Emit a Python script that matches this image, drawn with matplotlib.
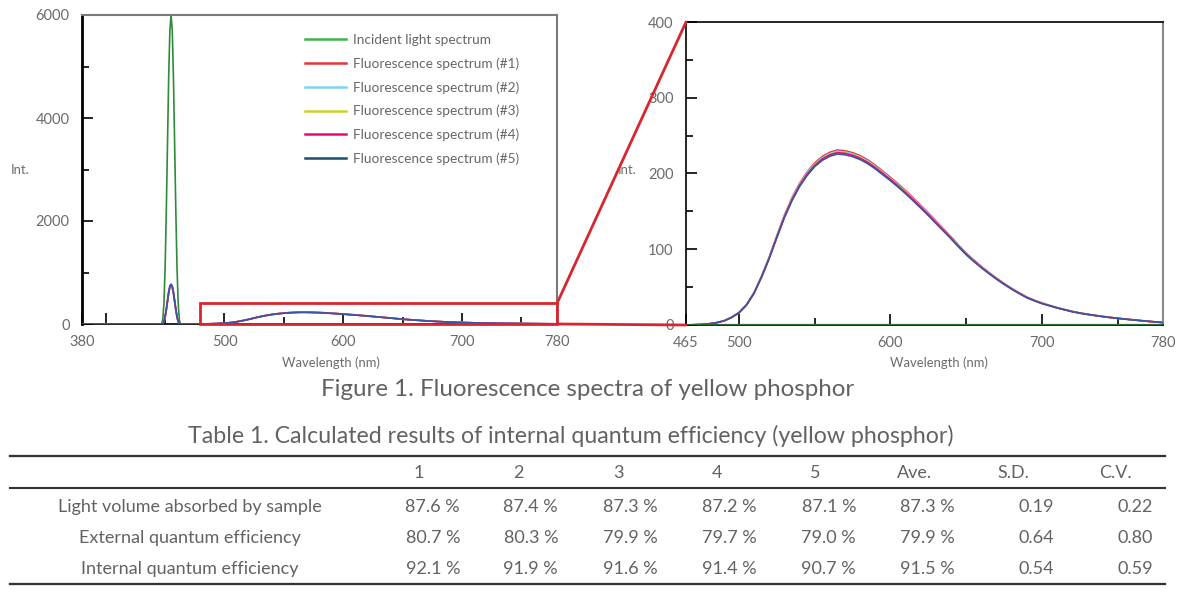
import matplotlib
matplotlib.use('Agg')
import matplotlib.pyplot as plt
from matplotlib.lines import Line2D
from matplotlib.patches import Rectangle, ConnectionPatch

plt.rcParams['font.family'] = ['Lato', 'DejaVu Sans']
plt.rcParams['font.weight'] = 'normal'

# ---- data ----
inc_nm = [380, 447, 448, 449, 450, 451, 452, 453, 454, 455, 456, 457, 458, 459, 460, 461, 462, 463, 780]
inc_val = [0, 0, 80, 400, 1100, 2200, 3500, 4800, 5700, 6000, 5700, 4800, 3500, 2200, 1100, 400, 80, 0, 0]

exc_nm = [447, 448, 449, 450, 451, 452, 453, 454, 455, 456, 457, 458, 459, 460, 461, 462, 463]
fl1_exc = [0, 10, 50, 136, 273, 434, 595, 707, 744, 707, 595, 434, 273, 136, 50, 10, 0]
fl2_exc = [0, 10, 50, 138, 277, 441, 605, 718, 756, 718, 605, 441, 277, 138, 50, 10, 0]
fl3_exc = [0, 10, 51, 140, 280, 444, 610, 724, 762, 724, 610, 444, 280, 140, 51, 10, 0]
fl4_exc = [0, 10, 51, 141, 282, 448, 614, 730, 768, 730, 614, 448, 282, 141, 51, 10, 0]
fl5_exc = [0, 10, 52, 142, 284, 451, 619, 735, 774, 735, 619, 451, 284, 142, 52, 10, 0]

em_nm = list(range(465, 781, 5))
fl1_em = [0.0, 0.3, 0.7, 1.5, 3.0, 5.5, 10.0, 16.5,
          27.0, 43.0, 65.0, 90.0, 118.0, 145.0, 168.0, 187.0,
          202.0, 214.0, 222.5, 228.0, 231.0, 230.0, 227.5, 223.5,
          218.0, 211.0, 203.0, 195.0, 186.5, 177.5, 168.0, 158.0,
          148.0, 137.5, 127.0, 116.5, 105.5, 95.0, 86.0, 77.5,
          69.5, 62.0, 55.0, 48.5, 42.5, 37.0, 32.8, 29.0,
          26.0, 23.0, 20.5, 18.0, 16.0, 14.3, 12.8, 11.4,
          10.1, 9.0, 7.9, 6.9, 5.9, 5.0, 4.1, 3.3]
fl2_em = [0.0, 0.3, 0.7, 1.5, 3.0, 5.5, 9.9, 16.4,
          26.8, 42.7, 64.5, 89.4, 117.2, 144.0, 166.8, 185.7,
          200.6, 212.5, 220.9, 226.4, 229.4, 228.4, 225.9, 221.9,
          216.5, 209.5, 201.6, 193.6, 185.2, 176.3, 166.8, 156.9,
          147.0, 136.5, 126.1, 115.7, 104.8, 94.3, 85.4, 77.0,
          69.0, 61.6, 54.6, 48.2, 42.2, 36.7, 32.6, 28.8,
          25.8, 22.8, 20.4, 17.9, 15.9, 14.2, 12.7, 11.3,
          10.0, 8.9, 7.8, 6.9, 5.9, 5.0, 4.1, 3.3]
fl3_em = [0.0, 0.3, 0.7, 1.5, 3.0, 5.4, 9.9, 16.3,
          26.7, 42.5, 64.2, 88.9, 116.6, 143.3, 166.0, 184.8,
          199.6, 211.4, 219.8, 225.3, 228.2, 227.2, 224.8, 220.8,
          215.4, 208.5, 200.6, 192.7, 184.3, 175.4, 166.0, 156.1,
          146.2, 135.9, 125.5, 115.1, 104.2, 93.9, 85.0, 76.6,
          68.7, 61.3, 54.3, 47.9, 42.0, 36.6, 32.4, 28.7,
          25.7, 22.7, 20.3, 17.8, 15.8, 14.1, 12.6, 11.3,
          10.0, 8.9, 7.8, 6.8, 5.8, 4.9, 4.1, 3.3]
fl4_em = [0.0, 0.3, 0.7, 1.5, 3.0, 5.4, 9.9, 16.3,
          26.6, 42.4, 64.0, 88.7, 116.2, 142.8, 165.5, 184.2,
          199.0, 210.8, 219.2, 224.6, 227.5, 226.6, 224.1, 220.1,
          214.7, 207.8, 200.0, 192.1, 183.7, 174.8, 165.5, 155.6,
          145.8, 135.4, 125.1, 114.8, 103.9, 93.6, 84.7, 76.3,
          68.5, 61.1, 54.2, 47.8, 41.9, 36.4, 32.3, 28.6,
          25.6, 22.7, 20.2, 17.7, 15.8, 14.1, 12.6, 11.2,
          9.9, 8.9, 7.8, 6.8, 5.8, 4.9, 4.0, 3.3]
fl5_em = [0.0, 0.3, 0.7, 1.5, 2.9, 5.4, 9.8, 16.1,
          26.4, 42.0, 63.5, 87.9, 115.3, 141.7, 164.1, 182.7,
          197.4, 209.1, 217.4, 222.8, 225.7, 224.7, 222.3, 218.4,
          213.0, 206.1, 198.3, 190.5, 182.2, 173.4, 164.1, 154.4,
          144.6, 134.3, 124.1, 113.8, 103.1, 92.8, 84.0, 75.7,
          67.9, 60.6, 53.7, 47.4, 41.5, 36.1, 32.0, 28.3,
          25.4, 22.5, 20.0, 17.6, 15.6, 14.0, 12.5, 11.1,
          9.9, 8.8, 7.7, 6.7, 5.8, 4.9, 4.0, 3.2]

legend_labels = ['Incident light spectrum', 'Fluorescence spectrum (#1)', 'Fluorescence spectrum (#2)',
                 'Fluorescence spectrum (#3)', 'Fluorescence spectrum (#4)', 'Fluorescence spectrum (#5)']
legend_colors = ['#3db54a', '#e2363f', '#7dd3f7', '#c9d32a', '#e5097f', '#1c4f6e']
line_colors = ['#e2363f', '#7dd3f7', '#c9d32a', '#e5097f', '#3a55a5']

tbl_title = 'Table 1. Calculated results of internal quantum efficiency (yellow phosphor)'
col_headers = ['1', '2', '3', '4', '5', 'Ave.', 'S.D.', 'C.V.']
row_labels = ['Light volume absorbed by sample', 'External quantum efficiency', 'Internal quantum efficiency']
row_absorbed = ['87.6 %', '87.4 %', '87.3 %', '87.2 %', '87.1 %', '87.3 %', '0.19', '0.22']
row_external = ['80.7 %', '80.3 %', '79.9 %', '79.7 %', '79.0 %', '79.9 %', '0.64', '0.80']
row_internal = ['92.1 %', '91.9 %', '91.6 %', '91.4 %', '90.7 %', '91.5 %', '0.54', '0.59']

W, H = 1178, 597
TXT = '#626262'

def fx(px):
    return px / W

def fy(py):
    return 1 - py / H

fig = plt.figure(figsize=(W / 100, H / 100), dpi=100)

ax1 = fig.add_axes([fx(82), fy(324), (557 - 82) / W, (324 - 15) / H])
ax2 = fig.add_axes([fx(686), fy(325), (1163 - 686) / W, (325 - 22) / H])

fl_exc = [fl1_exc, fl2_exc, fl3_exc, fl4_exc, fl5_exc]
fl_em = [fl1_em, fl2_em, fl3_em, fl4_em, fl5_em]

# left: full range
ax1.plot(inc_nm, inc_val, color='#2f8a3c', lw=1.2, zorder=2)
for i in range(5):
    x = [380] + exc_nm + em_nm
    y = [0] + fl_exc[i] + fl_em[i]
    ax1.plot(x, y, color=line_colors[i], lw=1.2, zorder=3)

ax1.set_xlim(380, 780)
ax1.set_ylim(0, 6000)
ax1.set_xticks([380, 400, 500, 600, 700, 780])
ax1.set_xticklabels(['380', '', '500', '600', '700', '780'])
ax1.set_xticks([450, 550, 650, 750], minor=True)
ax1.set_yticks([0, 2000, 4000, 6000])
ax1.set_yticks([1000, 3000, 5000], minor=True)

# right: zoom
for i in range(5):
    x = [380] + exc_nm + em_nm
    y = [0] + fl_exc[i] + fl_em[i]
    ax2.plot(x, y, color=line_colors[i], lw=1.2, zorder=3)
ax2.plot(inc_nm, inc_val, color='#2d6e35', lw=1.6, zorder=3.5)
ax2.set_xlim(465, 780)
ax2.set_ylim(0, 400)
ax2.set_xticks([465, 500, 600, 700, 780])
ax2.set_xticks([550, 650, 750], minor=True)
ax2.set_yticks([0, 100, 200, 300, 400])
ax2.set_yticks([50, 150, 250, 350], minor=True)

for ax in (ax1, ax2):
    ax.tick_params(which='major', direction='in', length=8, width=1.2, color='black',
                   labelsize=10.5, labelcolor='#6b6b6b', pad=8)
    ax.tick_params(which='minor', direction='in', length=5, width=1.2, color='black')
    ax.tick_params(axis='y', pad=9)
    ax.set_xlabel('Wavelength (nm)', fontsize=9.4, color='#6b6b6b')
    ax.set_ylabel('Int.', fontsize=9.4, color='#6b6b6b', rotation=0, ha='center', va='center')

ax1.xaxis.set_label_coords((331 - 82) / 475, -(356 - 324) / 309)
ax1.yaxis.set_label_coords((20 - 82) / 475, 1 - (170 - 15) / 309)
ax2.xaxis.set_label_coords((939 - 686) / 477, -(356 - 325) / 303)
ax2.yaxis.set_label_coords((627 - 686) / 477, 1 - (170 - 22) / 303)

ax1.spines['left'].set_color('black')
ax1.spines['left'].set_linewidth(2)
ax1.spines['bottom'].set_color('black')
ax1.spines['bottom'].set_linewidth(1.2)
for s in ('top', 'right'):
    ax1.spines[s].set_color('#7a7a7a')
    ax1.spines[s].set_linewidth(1.5)
for s in ('left', 'top', 'bottom'):
    ax2.spines[s].set_color('black')
    ax2.spines[s].set_linewidth(1.2)
ax2.spines['right'].set_color('#8a8a8a')
ax2.spines['right'].set_linewidth(1.5)

# legend with proxy lines
handles = [Line2D([0], [0], color=c, lw=1.8) for c in legend_colors]
leg = ax1.legend(handles, legend_labels, loc='upper left',
                 bbox_to_anchor=((305 - 82) / 475, 1 - (34 - 15) / 309),
                 frameon=False, fontsize=9.85, handlelength=3.0, handletextpad=0.5,
                 labelspacing=0.82, borderpad=0, borderaxespad=0)
for t in leg.get_texts():
    t.set_color('#666666')

# zoom box + connectors
red = '#d9262e'
ax1.add_patch(Rectangle((479, 0), 301, 400, fill=False, edgecolor=red, lw=2,
                        clip_on=False, zorder=5))
for yv in (400, 0):
    con = ConnectionPatch(xyA=(780, yv), coordsA=ax1.transData,
                          xyB=(465, yv), coordsB=ax2.transData,
                          color=red, lw=2, zorder=5)
    fig.add_artist(con)

# captions
fig.text(fx(588), fy(390), 'Figure 1. Fluorescence spectra of yellow phosphor',
         ha='center', va='center', fontsize=17.4, color=TXT)
fig.text(fx(571), fy(436), tbl_title, ha='center', va='center', fontsize=16.7, color=TXT)

# table
for yr, lw in ((456, 2.2), (488, 2.0), (584, 2.2)):
    fig.add_artist(Line2D([fx(10), fx(1165)], [fy(yr), fy(yr)], color='#333333', lw=lw * 0.75))

hdr_x = [419, 518, 618, 717, 815, 915, 1013, 1115]
val_x = [460, 558, 658, 757, 856, 955, 1054, 1153]
for h, xp in zip(col_headers, hdr_x):
    fig.text(fx(xp), fy(473), h, ha='center', va='center', fontsize=13, color=TXT)

rows = [row_absorbed, row_external, row_internal]
for r, (lab, vals) in enumerate(zip(row_labels, rows)):
    yp = [507, 538, 569][r]
    fig.text(fx(190), fy(yp), lab, ha='center', va='center', fontsize=13, color=TXT)
    for v, xp in zip(vals, val_x):
        fig.text(fx(xp), fy(yp), v, ha='right', va='center', fontsize=13, color=TXT)

fig.savefig('out.png', dpi=100)
